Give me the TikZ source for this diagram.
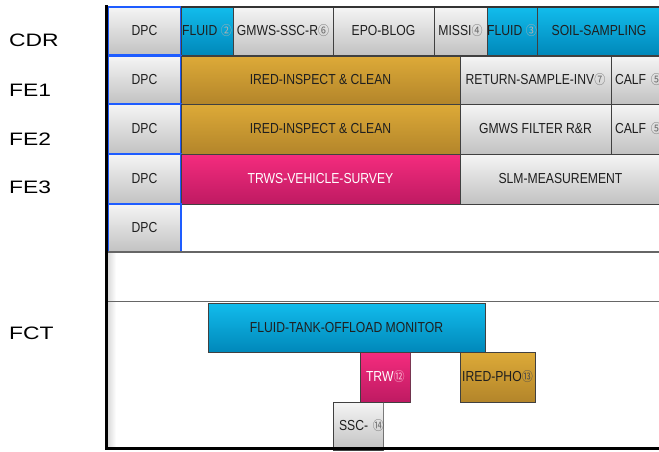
\documentclass[tikz,border=0pt]{standalone}
\usepackage{fontspec}
\usepackage{xcolor}
\setmainfont{Liberation Sans}
\newfontfamily\boxfont[FakeStretch=0.84]{Liberation Sans}
\newfontfamily\rowfont[FakeStretch=1.27]{Liberation Sans}
\newfontfamily\circfont[FakeStretch=0.85]{Noto Sans CJK SC}

\definecolor{dpcblue}{HTML}{1E5CFF}
\definecolor{tealtop}{HTML}{12BCEC}
\definecolor{tealbot}{HTML}{0088BA}
\definecolor{goldtop}{HTML}{DDAA38}
\definecolor{goldbot}{HTML}{B3852A}
\definecolor{pinktop}{HTML}{F52C7E}
\definecolor{pinkbot}{HTML}{BE1A62}

\newcommand{\cnum}[2][black!58]{{\circfont\fontsize{13}{14}\selectfont\color{#1}#2}}

\tikzset{
  task/.style={draw=black!75, line width=0.9pt, inner sep=0pt, outer sep=0pt,
    anchor=north west, font={\boxfont\fontsize{14.5}{16}\selectfont}, text=black!88},
  graytask/.style={task, top color=black!4, bottom color=black!24},
  tealtask/.style={task, top color=tealtop, bottom color=tealbot},
  goldtask/.style={task, top color=goldtop, bottom color=goldbot},
  pinktask/.style={task, top color=pinktop, bottom color=pinkbot, text=white},
  dpctask/.style={graytask, draw=dpcblue, line width=1.8pt},
  rowlabel/.style={anchor=west, inner sep=0pt, font={\rowfont\fontsize{18}{20}\selectfont}},
  divider/.style={draw=black!60, line width=1.3pt}
}

\begin{document}
\begin{tikzpicture}[x=1pt, y=-1pt]
  \useasboundingbox (0,0) rectangle (659,451);

  % row labels
  \node[rowlabel] (lcdr) at (9,40.5) {CDR};
  \node[rowlabel] (lfea) at (9,90) {FE1};
  \node[rowlabel] (lfeb) at (9,139) {FE2};
  \node[rowlabel] (lfec) at (9,187) {FE3};
  \node[rowlabel] (lfct) at (9,333) {FCT};

  % CDR
  \node[dpctask, minimum width=73pt, minimum height=48pt] (cdrdpc) at (108,7) {DPC};
  \node[tealtask, minimum width=52pt, minimum height=48pt] (cdrfluida) at (181,7) {FLUID \cnum[black!30]{②}};
  \node[graytask, minimum width=100pt, minimum height=48pt] (cdrgmws) at (233,7) {GMWS-SSC-R\cnum{⑥}};
  \node[graytask, minimum width=101pt, minimum height=48pt] (cdrepo) at (333,7) {EPO-BLOG};
  \node[graytask, minimum width=53pt, minimum height=48pt] (cdrmissi) at (434,7) {MISSI\cnum{④}};
  \node[tealtask, minimum width=50pt, minimum height=48pt] (cdrfluidb) at (487,7) {FLUID \cnum[black!30]{③}};
  \node[tealtask, minimum width=124pt, minimum height=48pt] (cdrsoil) at (537,7) {SOIL-SAMPLING};
  \draw[line width=2.5pt, black!80] (cdrfluida.north west) -- (cdrsoil.north east); % top edge
  \draw[line width=2pt, dpcblue] (cdrdpc.north west) -- (cdrdpc.north east);

  % FE1
  \node[dpctask, minimum width=73pt, minimum height=48pt] (feadpc) at (108,56) {DPC};
  \node[goldtask, minimum width=279pt, minimum height=48pt] (feaired) at (181,56) {IRED-INSPECT \& CLEAN};
  \node[graytask, minimum width=151pt, minimum height=48pt] (fearet) at (460,56) {RETURN-SAMPLE-INV\cnum{⑦}};
  \node[graytask, text width=62pt, align=left, inner xsep=4pt, minimum height=48pt] (feacalf) at (611,56) {CALF \cnum{⑤}};

  % FE2
  \node[dpctask, minimum width=73pt, minimum height=50pt] (febdpc) at (108,104) {DPC};
  \node[goldtask, minimum width=279pt, minimum height=50pt] (febired) at (181,104) {IRED-INSPECT \& CLEAN};
  \node[graytask, minimum width=151pt, minimum height=50pt] (febgmws) at (460,104) {GMWS FILTER R\&R};
  \node[graytask, text width=62pt, align=left, inner xsep=4pt, minimum height=50pt] (febcalf) at (611,104) {CALF \cnum{⑤}};

  % FE3
  \node[dpctask, minimum width=73pt, minimum height=50pt] (fecdpc) at (108,154) {DPC};
  \node[pinktask, minimum width=279pt, minimum height=50pt] (fectrws) at (181,154) {TRWS-VEHICLE-SURVEY};
  \node[graytask, minimum width=201pt, minimum height=50pt] (fecslm) at (460,154) {SLM-MEASUREMENT};

  % spare row
  \node[dpctask, minimum width=73pt, minimum height=48pt] (spdpc) at (108,204) {DPC};
  \shade[left color=black!14, right color=white] (108,253) rectangle (116,447);
  \draw[divider] (108,252) -- (659,252);
  \draw[divider] (108,301.5) -- (659,301.5);

  % FCT
  \node[tealtask, minimum width=277pt, minimum height=49pt] (fctfluid) at (208,303) {FLUID-TANK-OFFLOAD MONITOR};
  \begin{scope}
    \clip (359.5,351.5) rectangle (410.5,402.5);
    \node[pinktask, text width=60pt, align=left, inner xsep=6pt, minimum height=50pt] (fcttrw) at (360,352) {TRW\cnum[white!70!pinktop]{⑫}};
    \draw[black!75, line width=0.9pt] (fcttrw.north west) rectangle (410,402);
  \end{scope}
  \node[goldtask, minimum width=75pt, minimum height=50pt] (fctired) at (460,352) {IRED-PHO\cnum[black!70]{⑬}};
  \begin{scope}
    \clip (332.5,401.5) rectangle (383.5,450);
    \node[graytask, text width=60pt, align=left, inner xsep=6pt, minimum height=48pt] (fctssc) at (333,402) {SSC- \cnum{⑭}};
    \draw[black!75, line width=0.9pt] (fctssc.north west) rectangle (383,452);
  \end{scope}

  % frame
  \draw[line width=3pt, line cap=rect] (106.5,6) -- (106.5,448.5) -- (659,448.5);
\end{tikzpicture}
\end{document}
